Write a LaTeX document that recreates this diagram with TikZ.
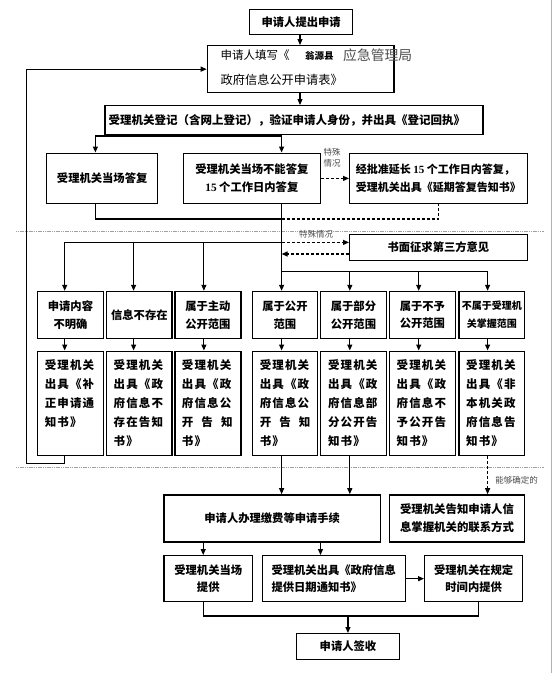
\documentclass[tikz,border=0pt]{standalone}
\usepackage{fontspec}
\setmainfont{Liberation Serif}
\newfontfamily\cjk{Noto Sans CJK SC}
\newfontfamily\cjkls[LetterSpace=10]{Noto Sans CJK SC}
\newfontfamily\tnr{Liberation Serif}
\usetikzlibrary{arrows.meta}
\newcommand\boxfont{\cjk\bfseries\fontsize{11.3}{17.7}\selectfont}
\newcommand\qfont{\cjkls\bfseries\fontsize{11.5}{19}\selectfont}
\newcommand\lblfont{\cjk\fontsize{8.5}{11.5}\selectfont}
\newcommand\kgz{\makebox[50.6pt][s]{开\hfill 告\hfill 知}}
\newcommand\fif{{\tnr\bfseries 15}}
\begin{document}
\begin{tikzpicture}[x=1pt,y=-1pt,
  box/.style={draw, line width=1.3pt, inner sep=0pt, anchor=north west, align=center, font=\boxfont},
  ln/.style={line width=1.1pt},
  arr/.style={ln, -{Triangle[length=6pt,width=5pt]}},
  darr/.style={arr, dash pattern=on 3pt off 2pt},
  dln/.style={ln, dash pattern=on 3pt off 2pt},
  sep/.style={line width=1.4pt, gray!75, dash pattern=on 1.2pt off 0.6pt},
  lbl/.style={font=\lblfont, text=black!70, inner sep=0pt, align=center},
  qt/.style={font=\qfont, inner sep=0pt, anchor=north west, align=left}]
\useasboundingbox (0,0) rectangle (554,673);
% right border
\coordinate (rb1) at (551.5,0);
\coordinate (rb2) at (551.5,673);
\draw[gray!60, line width=1pt] (rb1) -- (rb2);
% separators
\coordinate (sa1) at (15.9,231.3); \coordinate (sa2) at (544,231.3);
\coordinate (sb1) at (15.9,467.7); \coordinate (sb2) at (544,467.7);
\draw[sep] (sa1) -- (sa2);
\draw[sep] (sb1) -- (sb2);
% boxes
\node[box, minimum width=103pt, minimum height=25pt] (A) at (249,9) {申请人提出申请};
\node[box, minimum width=186.6pt, minimum height=47pt] (B) at (206.7,45) {};
\node[anchor=west, inner sep=0pt, font=\cjk\fontsize{11.5}{14}\selectfont] (B1) at (220.5,55) {申请人填写《};
\node[anchor=west, inner sep=0pt, font=\cjk\bfseries\fontsize{9.5}{12}\selectfont] (B2) at (305,55.5) {翁源县};
\node[anchor=west, inner sep=0pt, font=\cjk\fontsize{13.8}{16}\selectfont, text=black!70] (B3) at (343,55) {应急管理局};
\node[anchor=west, inner sep=0pt, font=\cjk\fontsize{12.2}{14}\selectfont] (B4) at (220.5,80) {政府信息公开申请表》};
\node[box, minimum width=378pt, minimum height=28.5pt, font=\cjk\bfseries\fontsize{11.5}{14}\selectfont] (C) at (104.2,105) {受理机关登记（含网上登记），验证申请人身份，并出具《登记回执》\kern14pt};
\node[box, minimum width=111pt, minimum height=50.5pt] (D) at (46,152.5) {受理机关当场答复};
\node[box, minimum width=137pt, minimum height=50.5pt] (E) at (182.7,152.5) {受理机关当场不能答复\\\fif{} 个工作日内答复};
\node[box, minimum width=177.5pt, minimum height=50.5pt, align=left, font=\cjk\bfseries\fontsize{11}{17.7}\selectfont] (F) at (349,152.5) {经批准延长 \fif{} 个工作日内答复，\\受理机关出具《延期答复告知书》};
\node[box, minimum width=177.5pt, minimum height=26.5pt] (G) at (349,233.5) {书面征求第三方意见};
% row 1
\node[box, minimum width=65.4pt, minimum height=47pt] (p1) at (37.1,290.8) {申请内容\\不明确};
\node[box, minimum width=65.4pt, minimum height=47pt] (p2) at (106,290.8) {信息不存在};
\node[box, minimum width=66pt, minimum height=47pt] (p3) at (174.2,290.8) {属于主动\\公开范围};
\node[box, minimum width=65.4pt, minimum height=47pt] (p4) at (251.6,290.8) {属于公开\\范围};
\node[box, minimum width=66pt, minimum height=47pt] (p5) at (319.8,290.8) {属于部分\\公开范围};
\node[box, minimum width=66pt, minimum height=47pt] (p6) at (388.7,290.8) {属于不予\\公开范围};
\node[box, minimum width=65.7pt, minimum height=47pt, font=\cjk\bfseries\fontsize{10}{17.7}\selectfont] (p7) at (458.3,290.8) {不属于受理机\\关掌握范围};
% row 2
\node[box, minimum width=65.4pt, minimum height=104pt] (q1) at (37.1,350.5) {};
\node[box, minimum width=65.4pt, minimum height=104pt] (q2) at (106,350.5) {};
\node[box, minimum width=66pt, minimum height=104pt] (q3) at (174.2,350.5) {};
\node[box, minimum width=65.4pt, minimum height=104pt] (q4) at (251.6,350.5) {};
\node[box, minimum width=66pt, minimum height=104pt] (q5) at (319.8,350.5) {};
\node[box, minimum width=66pt, minimum height=104pt] (q6) at (388.7,350.5) {};
\node[box, minimum width=65.7pt, minimum height=104pt] (q7) at (458.3,350.5) {};
\node[qt] (t1) at (44.6,359.6) {受理机关\\出具《补\\正申请通\\知书》};
\node[qt] (t2) at (113.5,359.6) {受理机关\\出具《政\\府信息不\\存在告知\\书》};
\node[qt] (t3) at (181.7,359.6) {受理机关\\出具《政\\府信息公\\\kgz\\书》};
\node[qt] (t4) at (259.6,359.6) {受理机关\\出具《政\\府信息公\\\kgz\\书》};
\node[qt] (t5) at (327.8,359.6) {受理机关\\出具《政\\府信息部\\分公开告\\知书》};
\node[qt] (t6) at (396.5,359.6) {受理机关\\出具《政\\府信息不\\予公开告\\知书》};
\node[qt] (t7) at (466,359.6) {受理机关\\出具《非\\本机关政\\府信息告\\知书》};
% bottom part
\node[box, minimum width=216.7pt, minimum height=47pt] (H) at (163.2,494.2) {申请人办理缴费等申请手续};
\node[box, minimum width=135.3pt, minimum height=47pt, font=\cjk\bfseries\fontsize{11.4}{17.7}\selectfont] (I) at (388.7,494.2) {受理机关告知申请人信\\息掌握机关的联系方式};
\node[box, minimum width=88.8pt, minimum height=46pt] (J) at (163.2,555) {受理机关当场\\提供};
\node[box, minimum width=143.1pt, minimum height=46pt, align=left] (K) at (261.5,555) {受理机关出具《政府信息\\提供日期通知书》};
\node[box, minimum width=98pt, minimum height=46pt] (L) at (424,555) {受理机关在规定\\时间内提供};
\node[box, minimum width=102.6pt, minimum height=26pt] (M) at (296,633) {申请人签收};
% x positions
\coordinate (xA) at (300,0);
\coordinate (xC) at (183,0);
\coordinate (xD) at (95.4,0);
\coordinate (xE) at (281.6,0);
\coordinate (x1) at (64.7,0);
\coordinate (x2) at (133.6,0);
\coordinate (x3) at (203.9,0);
\coordinate (x4) at (281.6,0);
\coordinate (x5) at (349.8,0);
\coordinate (x6) at (418.7,0);
\coordinate (x7) at (487.6,0);
\coordinate (xJ) at (203.2,0);
\coordinate (xK) at (320.5,0);
\coordinate (xL) at (478.8,0);
% connectors
\draw[arr] (xA |- A.south) -- (xA |- B.north);
\draw[arr] (xA |- B.south) -- (xA |- C.north);
\coordinate (jC) at (183,136);
\draw[ln] (xC |- C.south) -- (jC);
\draw[arr] (jC) -| (xD |- D.north);
\draw[arr] (jC) -| (xE |- E.north);
\draw[darr] (E.east) -- (F.west);
\node[lbl] (s1) at (332,158) {特殊\\情况};
\coordinate (jD) at (281.6,219);
\draw[ln] (xD |- D.south) |- (jD);
\draw[dln] (jD) -| (F.south);
\draw[arr] (xE |- E.south) -- (x4 |- p4.north);
\coordinate (jL) at (281.6,242.4);
\coordinate (y254) at (0,254);
\draw[arr] (jL) -| (x1 |- p1.north);
\draw[arr] (x2 |- jL) -- (x2 |- p2.north);
\draw[arr] (x3 |- jL) -- (x3 |- p3.north);
\draw[darr] (jL) -- (jL -| G.west);
\draw[darr] (G.west |- y254) -- (xE |- y254);
\node[lbl] (s2) at (316,234.5) {特殊情况};
\coordinate (jR) at (281.6,271.7);
\draw[arr] (jR) -| (x7 |- p7.north);
\draw[arr] (x5 |- jR) -- (x5 |- p5.north);
\draw[arr] (x6 |- jR) -- (x6 |- p6.north);
\foreach \i in {1,...,7} {\draw[arr] (x\i |- p\i.south) -- (x\i |- q\i.north);}
\coordinate (Lb) at (26.5,463.6);
\draw[arr] (x1 |- q1.south) |- (Lb) |- (B.west);
\draw[arr] (x4 |- q4.south) -- (x4 |- H.north);
\draw[arr] (x5 |- q5.south) -- (x5 |- H.north);
\draw[darr] (x7 |- q7.south) -- (x7 |- I.north);
\node[lbl] (s3) at (516.5,480) {能够确定的};
\draw[arr] (xJ |- H.south) -- (xJ |- J.north);
\draw[arr] (xK |- H.south) -- (xK |- K.north);
\draw[arr] (K.east) -- (L.west);
\coordinate (jB) at (348,616);
\draw[ln] (xJ |- J.south) |- (xL |- jB) -- (xL |- L.south);
\draw[arr] (M.north |- jB) -- (M.north);
\end{tikzpicture}
\end{document}
